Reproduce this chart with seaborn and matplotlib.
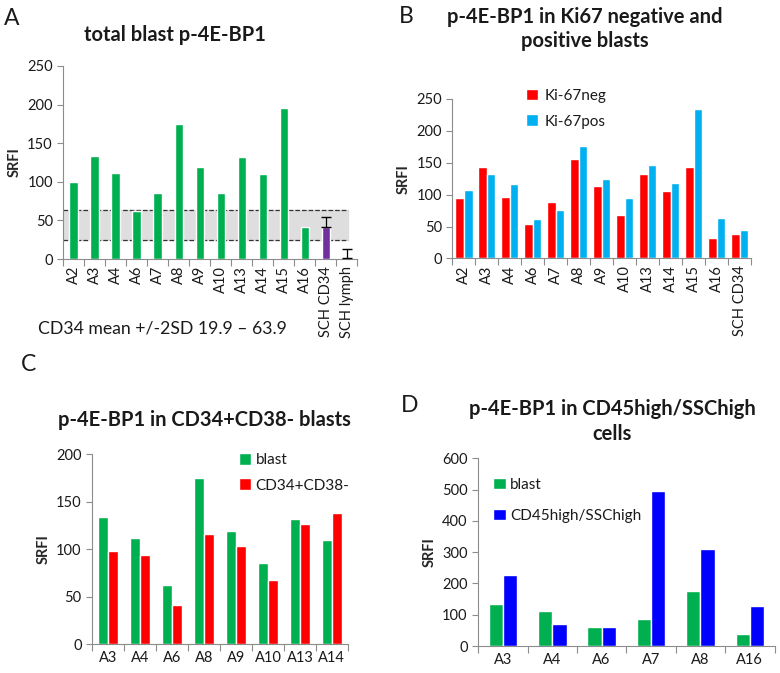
import pandas as pd
import seaborn as sns
import matplotlib.pyplot as plt
import numpy as np
from matplotlib.ticker import FixedLocator

# Panel A - total blast p-4E-BP1
a_labels = ["A2", "A3", "A4", "A6", "A7", "A8", "A9", "A10", "A13", "A14",
            "A15", "A16", "SCH CD34", "SCH lymph"]
a_values = [100, 134, 112, 62, 85, 175, 119, 85, 132, 110, 196, 41, 42, 2]
a_err = [0, 0, 0, 0, 0, 0, 0, 0, 0, 0, 0, 0, 12, 11]
band_low, band_high = 24.5, 63

# Panel B - Ki67 negative / positive blasts
b_labels = ["A2", "A3", "A4", "A6", "A7", "A8", "A9", "A10", "A13", "A14",
            "A15", "A16", "SCH CD34"]
b_neg = [94, 144, 97, 54, 88, 156, 114, 68, 132, 106, 144, 32, 38]
b_pos = [107, 133, 117, 62, 76, 177, 124, 95, 147, 118, 234, 63, 44]

# Panel C - CD34+CD38- blasts
c_labels = ["A3", "A4", "A6", "A8", "A9", "A10", "A13", "A14"]
c_blast = [134, 112, 62, 175, 119, 85, 132, 110]
c_cd38 = [98, 94, 41, 116, 103, 68, 126, 138]

# Panel D - CD45high/SSChigh cells
d_labels = ["A3", "A4", "A6", "A7", "A8", "A16"]
d_blast = [134, 112, 62, 85, 176, 40]
d_high = [227, 72, 61, 496, 309, 129]

GREEN = "#00B050"
RED = "#FF0000"
SKY = "#00B0F0"
BLUE = "#0000FF"
PURPLE = "#7030A0"
AXC = "#8C8C8C"
TXT = "#1A1A1A"

sns.set_style("white")
plt.rcParams["font.family"] = ["Lato", "DejaVu Sans"]
plt.rcParams["font.size"] = 10.5
plt.rcParams["text.color"] = TXT
plt.rcParams["xtick.color"] = TXT
plt.rcParams["ytick.color"] = TXT

fig = plt.figure(figsize=(7.8, 6.73), dpi=100)
axA = fig.add_axes([0.081, 0.615, 0.377, 0.287])
axB = fig.add_axes([0.580, 0.616, 0.383, 0.237])
axC = fig.add_axes([0.118, 0.043, 0.328, 0.282])
axD = fig.add_axes([0.613, 0.040, 0.380, 0.279])

TICK_FS = 10.5
LEG_FS = 11


def excel_axes(ax, n, ymax, step, rot=0):
    ax.set_xlim(-0.5, n - 0.5)
    ax.set_ylim(0, ymax)
    ax.set_yticks(np.arange(0, ymax + 1, step))
    ax.xaxis.set_minor_locator(FixedLocator(np.arange(-0.5, n, 1)))
    ax.tick_params(axis="x", which="major", length=0, pad=5, labelsize=TICK_FS,
                   labelrotation=rot)
    ax.tick_params(axis="x", which="minor", length=5, color=AXC, width=0.8,
                   direction="out", bottom=True)
    ax.tick_params(axis="y", length=4, color=AXC, width=0.8, labelsize=TICK_FS,
                   direction="out", left=True)
    for s in ["top", "right"]:
        ax.spines[s].set_visible(False)
    for s in ["left", "bottom"]:
        ax.spines[s].set_color(AXC)
        ax.spines[s].set_linewidth(0.8)
    ax.set_xlabel("")
    ax.set_ylabel("SRFI", fontweight="bold", fontsize=10.5)


# ---- A ----
a_colors = [GREEN] * len(a_labels)
a_colors[a_labels.index("SCH CD34")] = PURPLE
axA.axhspan(band_low, band_high, xmin=0, xmax=0.97, color="#DEDEDE", zorder=0)
axA.axhline(band_low, xmin=0, xmax=0.97, color="#333333", ls="--", lw=0.9, zorder=1)
axA.axhline(band_high, xmin=0, xmax=0.97, color="#333333", ls="--", lw=0.9, zorder=1)
sns.barplot(x=a_labels, y=a_values, hue=a_labels, palette=a_colors, width=0.4,
            legend=False, ax=axA, zorder=2, saturation=1)
idx = [i for i, e in enumerate(a_err) if e > 0]
axA.errorbar(idx, [a_values[i] for i in idx],
             yerr=[[0] * len(idx), [a_err[i] for i in idx]],
             fmt="none", ecolor="black", elinewidth=0.9, capsize=3.5, zorder=3)
excel_axes(axA, len(a_labels), 250, 50, rot=90)

# ---- B ----
dfB = pd.DataFrame({"sample": b_labels * 2,
                    "SRFI": b_neg + b_pos,
                    "series": ["Ki-67neg"] * len(b_labels) + ["Ki-67pos"] * len(b_labels)})
sns.barplot(data=dfB, x="sample", y="SRFI", hue="series", palette=[RED, SKY],
            width=0.75, gap=0, ax=axB, saturation=1)
excel_axes(axB, len(b_labels), 250, 50, rot=90)
sns.move_legend(axB, "upper left", bbox_to_anchor=(0.2, 1.15), frameon=False,
                title=None, handlelength=0.8, handleheight=0.8, labelspacing=0.75,
                handletextpad=0.4, fontsize=LEG_FS)

# ---- C ----
dfC = pd.DataFrame({"sample": c_labels * 2,
                    "SRFI": c_blast + c_cd38,
                    "series": ["blast"] * len(c_labels) + ["CD34+CD38-"] * len(c_labels)})
sns.barplot(data=dfC, x="sample", y="SRFI", hue="series", palette=[GREEN, RED],
            width=0.63, gap=0, ax=axC, saturation=1)
excel_axes(axC, len(c_labels), 200, 50)
sns.move_legend(axC, "upper left", bbox_to_anchor=(0.52, 1.08), frameon=False,
                title=None, handlelength=0.8, handleheight=0.8, labelspacing=0.75,
                handletextpad=0.3, fontsize=LEG_FS)

# ---- D ----
dfD = pd.DataFrame({"sample": d_labels * 2,
                    "SRFI": d_blast + d_high,
                    "series": ["blast"] * len(d_labels) + ["CD45high/SSChigh"] * len(d_labels)})
sns.barplot(data=dfD, x="sample", y="SRFI", hue="series", palette=[GREEN, BLUE],
            width=0.58, gap=0, ax=axD, saturation=1)
excel_axes(axD, len(d_labels), 600, 100)
sns.move_legend(axD, "upper left", bbox_to_anchor=(0.005, 0.97), frameon=False,
                title=None, handlelength=0.8, handleheight=0.8, labelspacing=1.1,
                handletextpad=0.3, fontsize=LEG_FS)

# titles, panel letters and caption
TITLE_FS = 14.5
fig.text(0.224, 0.948, "total blast p-4E-BP1", fontsize=TITLE_FS,
         fontweight="bold", ha="center", va="center")
fig.text(0.75, 0.957, "p-4E-BP1 in Ki67 negative and\npositive blasts",
         fontsize=TITLE_FS, fontweight="bold", ha="center", va="center",
         linespacing=1.3)
fig.text(0.262, 0.376, "p-4E-BP1 in CD34+CD38- blasts", fontsize=TITLE_FS,
         fontweight="bold", ha="center", va="center")
fig.text(0.785, 0.374, "p-4E-BP1 in CD45high/SSChigh\ncells", fontsize=TITLE_FS,
         fontweight="bold", ha="center", va="center", linespacing=1.3)

for letter, x, y in [("A", 0.005, 0.972), ("B", 0.512, 0.975),
                     ("C", 0.027, 0.458), ("D", 0.514, 0.398)]:
    fig.text(x, y, letter, fontsize=16.5, ha="left", va="center")
fig.text(0.208, 0.512, "CD34 mean +/-2SD 19.9 \u2013 63.9", fontsize=12.7,
         ha="center", va="center")

fig.savefig("out.png", dpi=100)
